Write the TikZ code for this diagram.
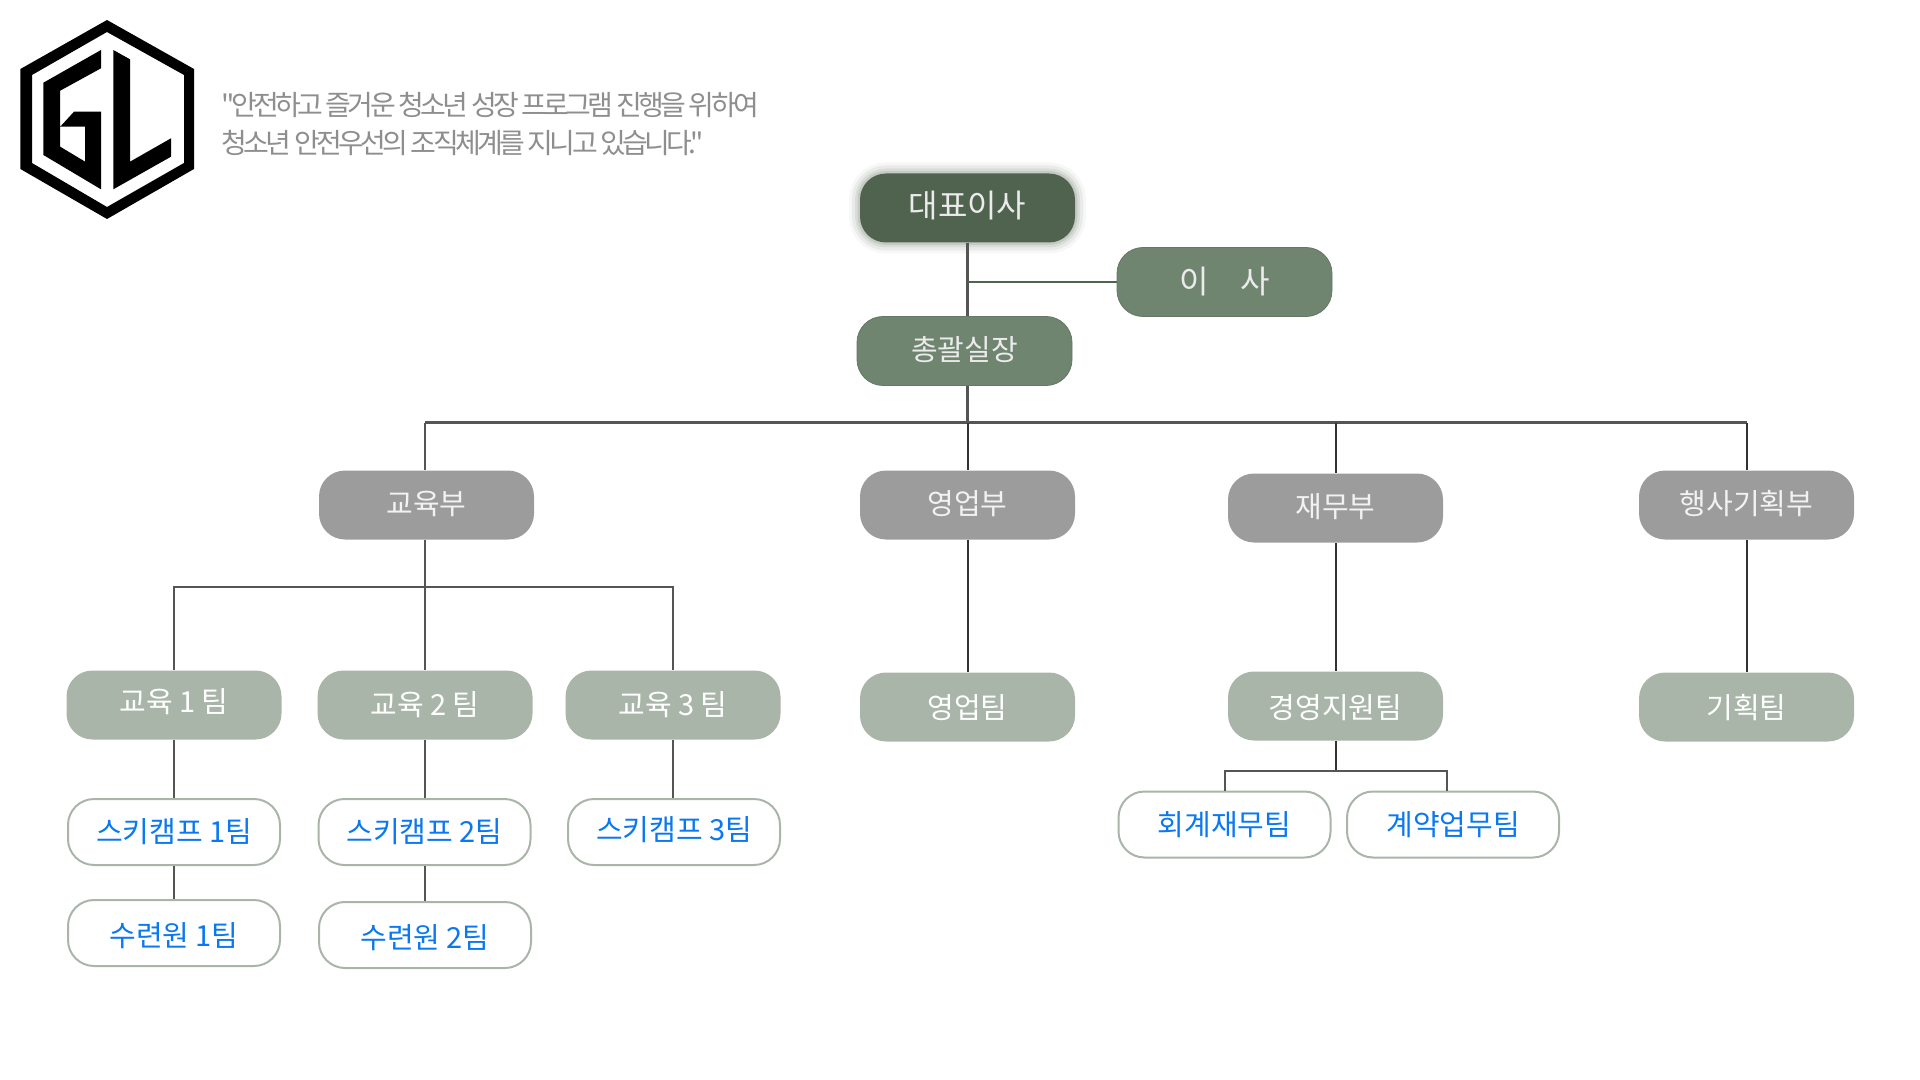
\documentclass[tikz,border=0pt]{standalone}
\usepackage{fontspec}
\setmainfont{Noto Sans CJK KR}
\newfontfamily\quotefont[Ligatures=NoCommon,LetterSpace=-13]{Noto Sans CJK KR}
\definecolor{ceogreen}{HTML}{50634F}
\definecolor{boardgreen}{HTML}{6F8570}
\definecolor{deptgray}{HTML}{9C9C9C}
\definecolor{teamgreen}{HTML}{A9B5A8}
\definecolor{campblue}{HTML}{0A78F0}
\definecolor{linegray}{HTML}{555555}
\definecolor{quotegray}{HTML}{8E8E8E}
\begin{document}
\begin{tikzpicture}[
    x=0.5pt,
    y=-0.5pt,
    pill/.style={
        rounded corners=13pt,
        minimum width=107.5pt,
        minimum height=34.5pt,
        inner sep=0pt,
        align=center,
        font=\fontsize{14.5}{16}\selectfont,
    },
    lift/.style={text height=12pt, text depth=#1},
    sink/.style={text height=#1, text depth=2pt},
    boss/.style={pill, fill=boardgreen, draw=boardgreen!90!black, text=white!92!black},
    dept/.style={pill, lift=2.2pt, fill=deptgray, text=white!95!black},
    team/.style={pill, fill=teamgreen, text=white},
    camp/.style={pill, minimum width=106pt, minimum height=33pt, fill=white, draw=teamgreen, line width=1pt, text=campblue},
    glow/.style={
        preaction={draw=ceogreen, line width=11pt, opacity=.05},
        preaction={draw=ceogreen, line width=8pt, opacity=.08},
        preaction={draw=ceogreen, line width=5pt, opacity=.1},
        preaction={draw=ceogreen, line width=2.5pt, opacity=.15},
    },
    quote/.style={anchor=west, inner sep=0pt, text=quotegray, font=\fontsize{14}{16}\quotefont},
    trunk/.style={draw=linegray, line width=1.2pt},
    stem/.style={draw=black!80, line width=1pt},
    twig/.style={draw=linegray, line width=1pt},
    ]
    \useasboundingbox (0,0) rectangle (1920,1080);

    % logo
    \fill[even odd rule] (107,20) -- (194,69) -- (194,169) -- (107,219) -- (20.4,169) -- (20.4,69) -- cycle
        (107,32) -- (184,75) -- (184,163) -- (107,207) -- (32,163) -- (32,75) -- cycle;
    \fill (101,50) -- (43.4,82.7) -- (43.4,155) -- (101,189.3) -- (101,111.7) -- (74,111.7) -- (60.2,126.7)
        -- (85.2,126.7) -- (85.2,161.7) -- (60.2,146.7) -- (60.2,90.7) -- (101,68.3) -- cycle;
    \fill (113.3,50) -- (130,59.3) -- (130,161.7) -- (171,138.3) -- (171,156.7) -- (113.3,189.3) -- cycle;

    % heading
    \node[quote] (quoteone) at (221,105) {"안전하고 즐거운 청소년 성장 프로그램 진행을 위하여};
    \node[quote] (quotetwo) at (221,143) {청소년 안전우선의 조직체계를 지니고 있습니다."};

    % top
    \node[boss, glow, lift=2pt, fill=ceogreen, draw=none, font=\fontsize{16}{18}\selectfont] (ceo) at (967.5,208) {대표이사};
    \node[boss, font=\fontsize{16}{18}\selectfont] (board) at (1224.5,282) {이\hspace{1em}사};
    \node[boss, lift=2.4pt] (chief) at (964.5,351) {총괄실장};

    % departments
    \node[dept] (edu) at (426.5,505) {교육부};
    \node[dept] (sales) at (967.5,505) {영업부};
    \node[dept] (fin) at (1335.5,508) {재무부};
    \node[dept] (plan) at (1746.5,505) {행사기획부};

    % teams
    \node[team, lift=4.4pt] (eduone) at (174,705) {교육 1 팀};
    \node[team] (edutwo) at (425,705) {교육 2 팀};
    \node[team] (eduthree) at (673,705) {교육 3 팀};
    \node[team, sink=13.2pt] (salesteam) at (967.5,707) {영업팀};
    \node[team, sink=14.4pt] (mgmt) at (1335.5,706) {경영지원팀};
    \node[team, sink=13.2pt] (planteam) at (1746.5,707) {기획팀};

    % white ones
    \node[camp] (skione) at (174,832) {스키캠프 1팀};
    \node[camp] (skitwo) at (424.5,832) {스키캠프 2팀};
    \node[camp, lift=3.2pt] (skithree) at (674,832) {스키캠프 3팀};
    \node[camp, sink=15.6pt] (trainone) at (174,933) {수련원 1팀};
    \node[camp, sink=15pt] (traintwo) at (425,935) {수련원 2팀};
    \node[camp] (account) at (1224.5,824.5) {회계재무팀};
    \node[camp] (contract) at (1453,824.5) {계약업무팀};

    % connectors
    \coordinate (bus) at (968,422.5);
    \coordinate (edubus) at (425,586.5);
    \coordinate (mgmtbus) at (1336,770.5);
    \coordinate (contractdrop) at (1447,770.5);
    \draw[trunk] (ceo.south) -- (ceo |- chief.north);
    \draw[trunk] (ceo |- chief.south) -- (ceo |- bus);
    \draw[draw=ceogreen, line width=0.8pt] (ceo |- board) -- (board.west);
    \draw[trunk] (edutwo |- bus) -- (plan |- bus);
    \draw[trunk] (edutwo |- bus) -- (edutwo |- edu.north);
    \draw[stem] (sales |- bus) -- (sales.north);
    \draw[stem] (fin |- bus) -- (fin.north);
    \draw[stem] (plan |- bus) -- (plan.north);
    \draw[twig] (edutwo |- edu.south) -- (edutwo.north);
    \draw[twig] (eduone.north) -- (eduone |- edubus) -- (eduthree |- edubus) -- (eduthree.north);
    \draw[stem] (sales.south) -- (salesteam.north);
    \draw[stem] (fin.south) -- (mgmt.north);
    \draw[stem] (plan.south) -- (planteam.north);
    \draw[twig] (eduone.south) -- (eduone |- skione.north);
    \draw[twig] (edutwo.south) -- (edutwo |- skitwo.north);
    \draw[twig] (eduthree.south) -- (eduthree |- skithree.north);
    \draw[twig] (skione.south) -- (trainone.north);
    \draw[twig] (edutwo |- skitwo.south) -- (edutwo |- traintwo.north);
    \draw[stem] (mgmt.south) -- (mgmt |- mgmtbus);
    \draw[twig] (account.north) -- (account |- mgmtbus) -- (contractdrop) -- (contractdrop |- contract.north);
\end{tikzpicture}
\end{document}
